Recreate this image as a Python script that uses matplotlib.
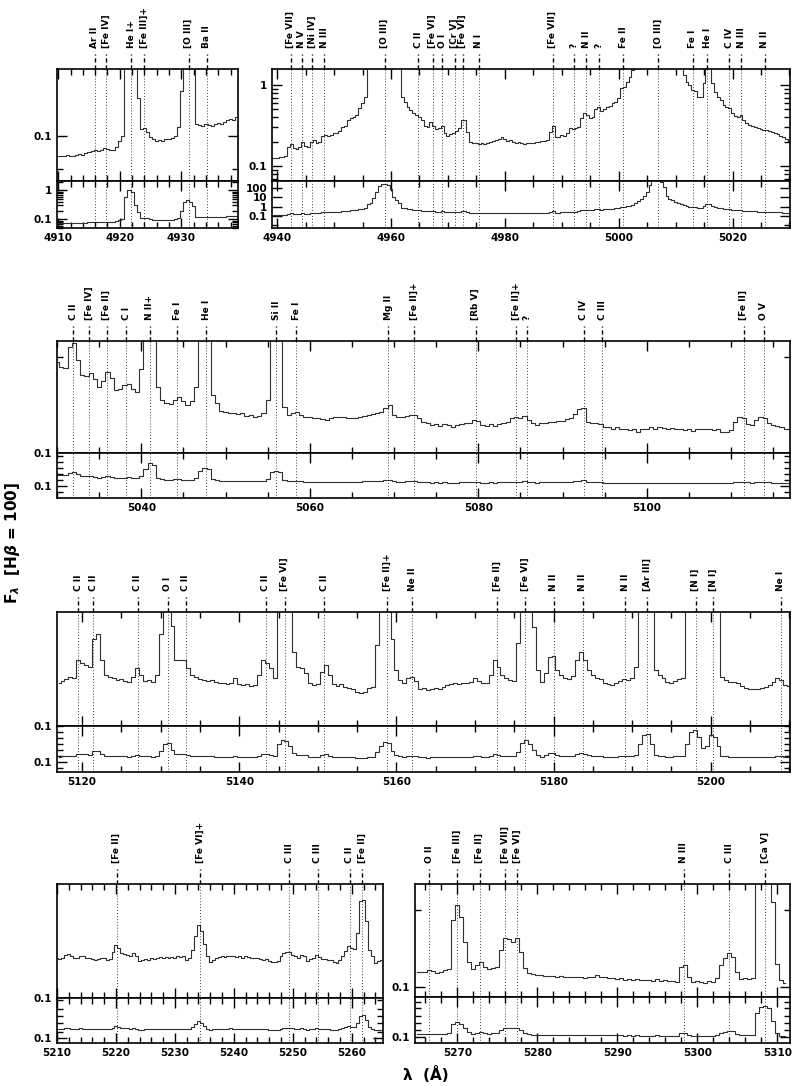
import numpy as np
import matplotlib.pyplot as plt
from matplotlib import transforms
from matplotlib.ticker import (FixedLocator, LogLocator, MultipleLocator,
                               NullFormatter, NullLocator, FuncFormatter)

plt.rcParams['font.family'] = 'DejaVu Sans'
plt.rcParams['font.weight'] = 'bold'

STEP = 0.5  # bin width (Angstrom)

# ---- spectrum segments (flux, H-beta = 100), bins of 0.5 A ----
a_start = 4910.0
a_flux = [0.073, 0.074, 0.073, 0.075, 0.074, 0.074, 0.075, 0.076, 0.075, 0.077,
          0.078, 0.079, 0.080, 0.079, 0.081, 0.083, 0.082, 0.080, 0.081, 0.085,
          0.092, 0.100, 0.60, 1.00, 0.90, 0.30, 0.18, 0.112, 0.113, 0.107,
          0.099, 0.095, 0.093, 0.094, 0.093, 0.096, 0.096, 0.097, 0.100, 0.115,
          0.20, 0.40, 0.45, 0.40, 0.29, 0.120, 0.118, 0.117, 0.121, 0.118,
          0.117, 0.120, 0.122, 0.121, 0.124, 0.128, 0.130, 0.128, 0.133]
a_lines = [4915.9, 4917.8, 4921.9, 4924.0, 4931.2, 4934.1]
a_ids = ['Ar II', '[Fe IV]', 'He I+', '[Fe III]+', '[O III]', 'Ba II']

b_start = 4939.0
b_flux = [0.124, 0.124, 0.127, 0.128, 0.130, 0.133, 0.173, 0.187, 0.165, 0.160,
          0.173, 0.200, 0.176, 0.173, 0.200, 0.209, 0.190, 0.200, 0.234, 0.241,
          0.234, 0.241, 0.253, 0.258, 0.270, 0.306, 0.312, 0.370, 0.388, 0.399,
          0.427, 0.516, 0.594, 0.718, 1.8, 2.2, 8.0, 40, 150, 240,
          250, 200, 70, 12, 5.0, 2.2, 0.718, 0.623, 0.540, 0.492,
          0.447, 0.427, 0.399, 0.370, 0.312, 0.306, 0.353, 0.312, 0.284, 0.292,
          0.312, 0.253, 0.234, 0.248, 0.258, 0.273, 0.292, 0.370, 0.365, 0.265,
          0.200, 0.190, 0.194, 0.187, 0.194, 0.187, 0.190, 0.200, 0.205, 0.209,
          0.213, 0.226, 0.213, 0.205, 0.209, 0.200, 0.194, 0.200, 0.190, 0.187,
          0.190, 0.194, 0.190, 0.198, 0.200, 0.202, 0.205, 0.209, 0.265, 0.312,
          0.230, 0.226, 0.241, 0.234, 0.253, 0.292, 0.284, 0.292, 0.306, 0.388,
          0.447, 0.427, 0.388, 0.407, 0.501, 0.530, 0.482, 0.501, 0.540, 0.550,
          0.594, 0.623, 0.685, 0.910, 0.936, 1.10, 1.27, 1.53, 2.5, 4.0,
          7.0, 14, 40, 200, 700, 1000, 900, 400, 120, 15,
          7.0, 5.0, 3.5, 2.5, 1.8, 1.33, 1.10, 1.00, 0.868, 0.850,
          0.718, 0.705, 1.05, 2.0, 1.8, 1.05, 0.827, 0.718, 0.653, 0.566,
          0.530, 0.516, 0.456, 0.415, 0.399, 0.427, 0.370, 0.343, 0.321, 0.312,
          0.300, 0.292, 0.284, 0.278, 0.278, 0.270, 0.263, 0.253, 0.245, 0.234,
          0.226, 0.213, 0.205]
b_lines = [4942.4, 4944.3, 4946.2, 4948.3, 4958.9, 4964.8, 4967.3, 4969.0,
           4971.2, 4972.6, 4975.4, 4988.4, 4992.1, 4994.3, 4996.5, 5000.8,
           5006.9, 5013.0, 5015.6, 5019.4, 5021.5, 5025.7]
b_ids = ['[Fe VII]', 'N V', '[Ni IV]', 'N III', '[O III]', 'C II', '[Fe VI]',
         'O I', '[Cr V]', '[Fe VI]', 'N I', '[Fe VII]', '?', 'N II', '?',
         'Fe II', '[O III]', 'Fe I', 'He I', 'C IV', 'N III', 'N II']

c_start = 5030.0
c_flux = [0.894, 0.79, 0.76, 1.26, 1.39, 0.93, 0.65, 0.63, 0.68, 0.585,
          0.49, 0.565, 0.70, 0.60, 0.453, 0.46, 0.51, 0.53, 0.47, 0.436,
          0.75, 2.5, 8.8, 6.0, 0.49, 0.356, 0.329, 0.324, 0.356, 0.38,
          0.35, 0.316, 0.35, 0.49, 1.8, 3.0, 2.5, 0.40, 0.33, 0.276,
          0.267, 0.259, 0.263, 0.254, 0.259, 0.245, 0.25, 0.24, 0.245, 0.259,
          0.356, 1.6, 1.8, 1.6, 0.304, 0.249, 0.263, 0.27, 0.249, 0.239,
          0.235, 0.23, 0.232, 0.224, 0.221, 0.232, 0.239, 0.235, 0.239, 0.233,
          0.232, 0.23, 0.235, 0.242, 0.249, 0.254, 0.259, 0.27, 0.298, 0.316,
          0.249, 0.235, 0.239, 0.242, 0.249, 0.249, 0.23, 0.212, 0.204, 0.195,
          0.2, 0.191, 0.199, 0.194, 0.188, 0.195, 0.2, 0.204, 0.207, 0.221,
          0.218, 0.195, 0.191, 0.199, 0.191, 0.2, 0.204, 0.212, 0.23, 0.239,
          0.23, 0.242, 0.221, 0.207, 0.195, 0.204, 0.207, 0.21, 0.212, 0.214,
          0.218, 0.224, 0.23, 0.254, 0.285, 0.292, 0.212, 0.207, 0.204, 0.2,
          0.188, 0.185, 0.18, 0.185, 0.176, 0.18, 0.174, 0.176, 0.167, 0.176,
          0.18, 0.188, 0.18, 0.188, 0.182, 0.179, 0.183, 0.176, 0.179, 0.174,
          0.176, 0.171, 0.176, 0.18, 0.176, 0.176, 0.174, 0.176, 0.167, 0.165,
          0.174, 0.212, 0.235, 0.23, 0.2, 0.195, 0.221, 0.235, 0.23, 0.204,
          0.195, 0.191, 0.185, 0.18, 0.176]
c_lines = [5031.9, 5033.8, 5035.9, 5038.2, 5041.0, 5044.3, 5047.7, 5056.0,
           5058.4, 5069.3, 5072.4, 5079.7, 5084.5, 5085.8, 5092.5, 5094.7,
           5111.5, 5113.9]
c_ids = ['C II', '[Fe IV]', '[Fe II]', 'C I', 'N II+', 'Fe I', 'He I', 'Si II',
         'Fe I', 'Mg II', '[Fe II]+', '[Rb V]', '[Fe II]+', '?', 'C IV',
         'C III', '[Fe II]', 'O V']

d_start = 5117.0
d_flux = [0.278, 0.297, 0.306, 0.326, 0.314, 0.487, 0.45, 0.432, 0.415, 0.81,
          0.91, 0.487, 0.34, 0.326, 0.32, 0.301, 0.306, 0.297, 0.289, 0.326,
          0.399, 0.34, 0.297, 0.301, 0.289, 0.34, 0.9, 3.0, 4.1, 1.1,
          0.487, 0.487, 0.49, 0.399, 0.34, 0.326, 0.306, 0.301, 0.297, 0.301,
          0.289, 0.282, 0.278, 0.273, 0.278, 0.314, 0.273, 0.267, 0.273, 0.262,
          0.267, 0.34, 0.487, 0.45, 0.399, 0.32, 3.0, 6.9, 5.5, 2.0,
          0.59, 0.415, 0.4, 0.354, 0.278, 0.267, 0.273, 0.368, 0.432, 0.34,
          0.273, 0.262, 0.273, 0.252, 0.247, 0.242, 0.228, 0.219, 0.228, 0.247,
          0.257, 0.70, 2.0, 4.9, 4.0, 0.8, 0.383, 0.301, 0.278, 0.32,
          0.326, 0.297, 0.242, 0.247, 0.237, 0.245, 0.25, 0.242, 0.252, 0.267,
          0.273, 0.278, 0.273, 0.282, 0.282, 0.289, 0.32, 0.297, 0.282, 0.282,
          0.34, 0.487, 0.41, 0.34, 0.32, 0.301, 0.297, 0.73, 4.0, 6.9,
          3.5, 1.08, 0.383, 0.289, 0.354, 0.52, 0.53, 0.383, 0.34, 0.314,
          0.306, 0.332, 0.487, 0.59, 0.487, 0.383, 0.34, 0.32, 0.306, 0.282,
          0.273, 0.267, 0.282, 0.297, 0.306, 0.301, 0.314, 0.415, 3.0, 18,
          23, 3.0, 0.383, 0.34, 0.32, 0.289, 0.282, 0.297, 0.306, 0.314,
          3.0, 30, 50, 12, 1.6, 2.0, 18, 12, 2.0, 0.326,
          0.301, 0.289, 0.289, 0.278, 0.262, 0.247, 0.245, 0.242, 0.245, 0.247,
          0.252, 0.267, 0.289, 0.314, 0.301, 0.267, 0.262]
d_lines = [5119.5, 5121.4, 5127.1, 5130.9, 5133.2, 5143.4, 5145.8, 5150.8,
           5158.8, 5162.0, 5172.8, 5176.4, 5180.0, 5183.7, 5189.1, 5191.9,
           5198.1, 5200.3, 5208.9]
d_ids = ['C II', 'C II', 'C II', 'O I', 'C II', 'C II', '[Fe VI]', 'C II',
         '[Fe II]+', 'Ne II', '[Fe II]', '[Fe VI]', 'N II', 'N II', 'N II',
         '[Ar III]', '[N I]', '[N I]', 'Ne I']

e_start = 5210.0
e_flux = [0.261, 0.255, 0.261, 0.283, 0.287, 0.272, 0.261, 0.263, 0.276, 0.272,
          0.261, 0.259, 0.255, 0.251, 0.257, 0.261, 0.259, 0.251, 0.255, 0.299,
          0.359, 0.332, 0.294, 0.29, 0.278, 0.272, 0.294, 0.272, 0.241, 0.246,
          0.255, 0.251, 0.261, 0.257, 0.261, 0.265, 0.261, 0.267, 0.261, 0.265,
          0.261, 0.272, 0.267, 0.272, 0.251, 0.261, 0.319, 0.44, 0.58, 0.495,
          0.368, 0.272, 0.235, 0.251, 0.261, 0.265, 0.272, 0.267, 0.272, 0.276,
          0.272, 0.267, 0.272, 0.263, 0.272, 0.267, 0.261, 0.259, 0.261, 0.255,
          0.251, 0.255, 0.241, 0.237, 0.239, 0.241, 0.272, 0.294, 0.301, 0.299,
          0.283, 0.272, 0.261, 0.28, 0.272, 0.241, 0.255, 0.261, 0.278, 0.267,
          0.255, 0.257, 0.251, 0.246, 0.235, 0.232, 0.251, 0.276, 0.306, 0.351,
          0.332, 0.324, 0.476, 1.02, 1.06, 0.628, 0.319, 0.272, 0.232, 0.241,
          0.246]
e_lines = [5220.1, 5234.3, 5249.4, 5254.2, 5259.7, 5261.8]
e_ids = ['[Fe II]', '[Fe VI]+', 'C III', 'C III', 'C II', '[Fe II]']

f_start = 5265.0
f_flux = [0.16, 0.157, 0.158, 0.168, 0.165, 0.155, 0.16, 0.168, 0.175, 0.75,
          1.17, 0.83, 0.392, 0.215, 0.171, 0.195, 0.215, 0.186, 0.171, 0.177,
          0.186, 0.305, 0.433, 0.425, 0.392, 0.44, 0.29, 0.177, 0.152, 0.148,
          0.145, 0.143, 0.142, 0.141, 0.141, 0.1375, 0.139, 0.1375, 0.136, 0.135,
          0.136, 0.135, 0.134, 0.135, 0.1375, 0.145, 0.135, 0.1375, 0.131, 0.134,
          0.13, 0.131, 0.1245, 0.127, 0.1245, 0.127, 0.123, 0.126, 0.1245, 0.122,
          0.127, 0.122, 0.1245, 0.12, 0.121, 0.118, 0.186, 0.193, 0.1375, 0.118,
          0.12, 0.116, 0.115, 0.12, 0.118, 0.131, 0.195, 0.238, 0.282, 0.25,
          0.16, 0.127, 0.131, 0.13, 0.132, 5.0, 12, 14.7, 10, 1.3,
          0.2, 0.1245, 0.113]
f_lines = [5266.5, 5270.0, 5272.8, 5276.0, 5277.5, 5298.3, 5304.0, 5308.5]
f_ids = ['O II', '[Fe III]', '[Fe II]', '[Fe VII]', '[Fe VI]', 'N III',
         'C III', '[Ca V]']

W, H = 792, 1086
fig = plt.figure(figsize=(W / 100, H / 100), dpi=100)


def add_px_axes(x0, y0, x1, y1):
    return fig.add_axes([x0 / W, 1 - y1 / H, (x1 - x0) / W, (y1 - y0) / H])


def fmt(v, pos):
    return '%g' % v


def draw_panel(box, start, flux, lines, ids, xlim, top_ylim, bot_ylim,
               xmaj, xmin, top_major, top_minor, bot_major, bot_subs):
    x0, x1, yt, ym, yb = box
    wl = start + STEP * np.arange(len(flux))
    ax_t = add_px_axes(x0, yt, x1, ym)
    ax_b = add_px_axes(x0, ym, x1, yb)
    for ax, ylim in ((ax_t, top_ylim), (ax_b, bot_ylim)):
        ax.step(wl, flux, where='mid', color='#303030', lw=0.8)
        ax.set_yscale('log')
        ax.set_xlim(*xlim)
        ax.set_ylim(*ylim)
        ax.xaxis.set_major_locator(MultipleLocator(xmaj))
        ax.xaxis.set_minor_locator(MultipleLocator(xmin))
        ax.tick_params(which='both', direction='in', top=True, right=True,
                       width=1, labelsize=7.5)
        ax.tick_params(which='major', length=7)
        ax.tick_params(which='minor', length=4)
        for s in ax.spines.values():
            s.set_linewidth(1.2)
        for l in lines:
            ax.axvline(l, color='k', lw=0.6, ls=(0, (1, 2.5)))
    ax_t.tick_params(labelbottom=False)

    ax_t.yaxis.set_major_locator(FixedLocator(top_major))
    ax_t.yaxis.set_major_formatter(FuncFormatter(fmt))
    if top_minor == 'log':
        ax_t.yaxis.set_minor_locator(LogLocator(base=10, subs=np.arange(2, 10), numticks=100))
    elif top_minor:
        ax_t.yaxis.set_minor_locator(FixedLocator(top_minor))
    else:
        ax_t.yaxis.set_minor_locator(NullLocator())
    ax_t.yaxis.set_minor_formatter(NullFormatter())

    ax_b.yaxis.set_major_locator(FixedLocator(bot_major))
    ax_b.yaxis.set_major_formatter(FuncFormatter(fmt))
    ax_b.yaxis.set_minor_locator(LogLocator(base=10, subs=bot_subs, numticks=100))
    ax_b.yaxis.set_minor_formatter(NullFormatter())

    # line identifications above the top panel
    h = ym - yt
    trans = transforms.blended_transform_factory(ax_t.transData, ax_t.transAxes)
    for l, name in zip(lines, ids):
        ax_t.plot([l, l], [1.0, 1 + 15 / h], transform=trans, clip_on=False,
                  color='k', lw=1.0, ls=(0, (3, 2)))
        ax_t.text(l, 1 + 21 / h, name, transform=trans, rotation=90,
                  ha='center', va='bottom', fontsize=6.5)


draw_panel((57, 238, 69, 181, 228), a_start, a_flux, a_lines, a_ids,
           (4909.8, 4939.2), (0.05, 0.28), (0.05, 2.1), 10, 2,
           [0.1], [0.06], [0.1, 1], np.arange(2, 10))
draw_panel((272, 790, 69, 181, 228), b_start, b_flux, b_lines, b_ids,
           (4939.1, 5030.1), (0.0653, 1.576), (0.005, 560), 20, 5,
           [0.1, 1], 'log', [0.1, 1, 10, 100], (1.0,))
draw_panel((57, 790, 341, 453, 498), c_start, c_flux, c_lines, c_ids,
           (5030.0, 5117.0), (0.1, 1.47), (0.0101, 56.7), 20, 5,
           [0.1], [1], [0.1], (1.0, 3.0))
draw_panel((57, 790, 612, 726, 772), d_start, d_flux, d_lines, d_ids,
           (5116.8, 5210.1), (0.1, 1.54), (0.0149, 101), 20, 5,
           [0.1], [], [0.1], (1.0, 3.0))
draw_panel((57, 383, 884, 998, 1043), e_start, e_flux, e_lines, e_ids,
           (5210.0, 5265.3), (0.1, 1.54), (0.062, 6.2), 10, 2,
           [0.1], [], [0.1], (1.0, 2.0, 5.0))
draw_panel((415, 790, 884, 997, 1043), f_start, f_flux, f_lines, f_ids,
           (5264.7, 5311.6), (0.0748, 2.2), (0.0378, 62), 10, 2,
           [0.1], [1], [0.1], (1.0, 3.0))

fig.text(13 / W, 1 - 543 / H, r'F$_{\lambda}$  [H$\beta$ = 100]', rotation=90,
         ha='center', va='center', fontsize=11)
fig.text(403 / W, 1 - 1075 / H, 'λ  (Å)', ha='left', va='center', fontsize=11)

fig.savefig('out.png', dpi=100)
